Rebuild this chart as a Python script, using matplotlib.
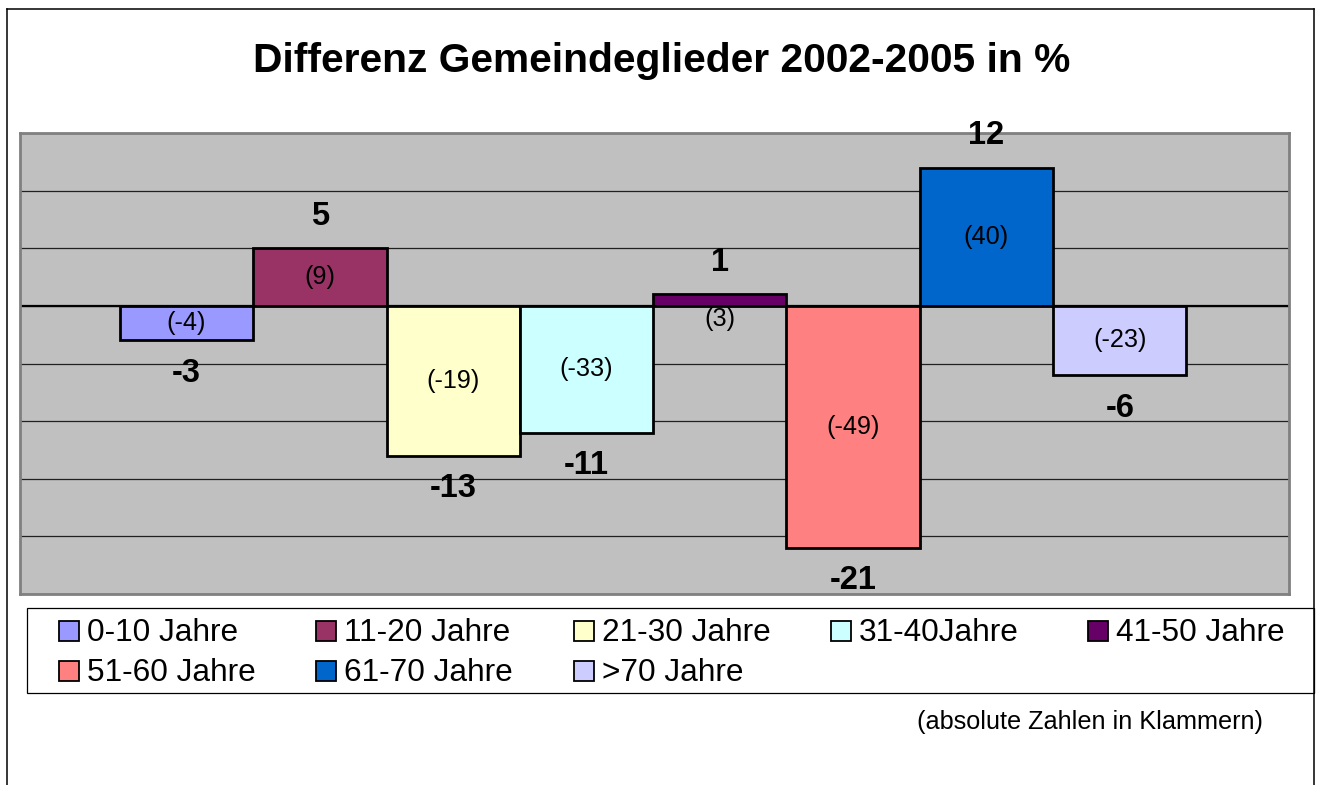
import matplotlib
matplotlib.use("Agg")
import matplotlib.pyplot as plt
from matplotlib.patches import Rectangle
from matplotlib.lines import Line2D

plt.rcParams['font.family'] = ['Liberation Sans', 'DejaVu Sans']

# ---- data ----
categories = ["0-10 Jahre", "11-20 Jahre", "21-30 Jahre", "31-40Jahre", "41-50 Jahre",
              "51-60 Jahre", "61-70 Jahre", ">70 Jahre"]
percent_change = [-3, 5, -13, -11, 1, -21, 12, -6]
absolute_change = [-4, 9, -19, -33, 3, -49, 40, -23]
colors = ["#9999FF", "#993366", "#FFFFCC", "#CCFFFF", "#660066",
          "#FF8080", "#0066CC", "#CCCCFF"]
title = "Differenz Gemeindeglieder 2002-2005 in %"
footnote = "(absolute Zahlen in Klammern)"

W, H = 1321, 785
fig = plt.figure(figsize=(W / 100, H / 100), dpi=100)
fig.patch.set_facecolor("white")

def fx(px):
    return px / W

def fy(py):
    return 1 - py / H

# outer frame (no bottom edge)
for (x1, y1, x2, y2) in [(7, 785, 7, 9), (7, 9, 1314, 9), (1314, 9, 1314, 785)]:
    fig.add_artist(Line2D([fx(x1), fx(x2)], [fy(y1), fy(y2)], color="black",
                          lw=1.1, transform=fig.transFigure))

# plot area
ax = fig.add_axes([fx(20), fy(594), (1289 - 20) / W, (594 - 133) / H])
ax.set_facecolor("#C0C0C0")
for s in ax.spines.values():
    s.set_color("#808080")
    s.set_linewidth(2.0)
ax.set_ylim(-25, 15)
ax.set_xlim(-1.25, 8.27)
ax.set_yticks(range(-25, 16, 5))
ax.set_xticks([])
ax.tick_params(left=False, labelleft=False)
ax.yaxis.grid(True, color="#202020", lw=0.9)
ax.set_axisbelow(True)
ax.axhline(0, color="black", lw=1.6, zorder=2)

x = list(range(len(categories)))
ax.bar(x, percent_change, width=1.0, color=colors, edgecolor="black",
       linewidth=2.0, zorder=3)

for i, (v, a) in enumerate(zip(percent_change, absolute_change)):
    ax.annotate(str(v), (i, v), xytext=(0, 32 if v > 0 else -33),
                textcoords="offset pixels", ha="center", va="center",
                fontsize=23.5, fontweight="bold", zorder=5)
    yin = v / 2 if abs(v) >= 2 else -1.1
    ax.text(i, yin, f"({a})", ha="center", va="center", fontsize=18.2, zorder=5)

# title
fig.text(fx(662), fy(72), title, ha="center", va="baseline",
         fontsize=29.3, fontweight="bold")

# legend box
fig.add_artist(Rectangle((fx(27), fy(693)), (1314 - 27) / W, (693 - 608) / H,
                         transform=fig.transFigure, facecolor="white",
                         edgecolor="black", lw=0.9))
ncol = 5
for k, (lab, col) in enumerate(zip(categories, colors)):
    r, c = divmod(k, ncol)
    x0 = 59 + 257.3 * c
    yc = 631 + 40 * r
    fig.add_artist(Rectangle((fx(x0), fy(yc + 10)), 20 / W, 20 / H,
                             transform=fig.transFigure, facecolor=col,
                             edgecolor="black", lw=1.3))
    fig.text(fx(x0 + 28), fy(yc + 10), lab, ha="left", va="baseline", fontsize=22.8)

# footnote
fig.text(fx(917), fy(729), footnote, ha="left", va="baseline", fontsize=18.2)

fig.savefig("out.png", dpi=100)
